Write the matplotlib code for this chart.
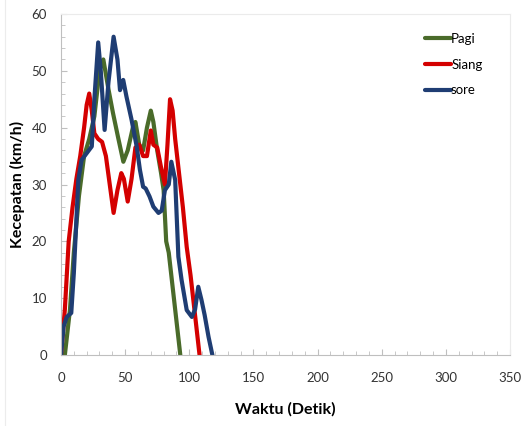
import matplotlib
matplotlib.use("Agg")
import matplotlib.pyplot as plt
from matplotlib.ticker import MultipleLocator
from matplotlib.lines import Line2D

plt.rcParams['font.family'] = ['Lato', 'DejaVu Sans']

pagi_t = [3, 7, 10, 14, 18, 22, 26, 30, 33, 36.8, 40.5, 44.4, 48.6, 52, 56, 58, 61, 64, 67, 70, 72, 75, 78, 80, 82, 84, 87, 90, 93]
pagi_v = [0, 8, 18, 28, 35, 38, 42, 50, 52, 47, 42.6, 38.4, 34, 36, 40, 41, 37, 36, 40, 43, 41, 36, 32, 29, 20, 18, 12, 6, 0]

siang_t = [0, 3, 6, 9, 12, 15, 18, 20, 22, 24, 26, 29, 32, 35, 38, 41, 44, 47, 49, 52, 55, 58, 61, 64, 67, 70, 72, 75, 78, 81, 83, 85, 87, 89, 92, 95, 98, 101, 104, 108]
siang_v = [0, 8, 20, 26, 31, 35, 40, 44, 46, 43, 39, 38, 37.5, 35, 30, 25, 29, 32, 31, 27, 31, 36.5, 37, 35, 35, 39.5, 37, 36.5, 33, 30, 37, 45, 43, 38, 32, 26, 19, 14, 8, 0]

sore_t = [0, 2, 4.5, 8, 10, 13.5, 16, 20, 24, 26, 29, 31, 34, 37, 41, 44, 46, 48.5, 51, 55, 59, 61.5, 64, 66, 69, 72, 76, 78.5, 81, 84, 86, 89, 91.5, 94, 98, 102, 104.5, 107, 109.5, 112, 115, 118]
sore_v = [0, 5, 6.7, 7.4, 14.4, 30.8, 34.3, 35.5, 36.7, 45, 55, 50, 39.6, 48, 56, 52, 46.6, 48.4, 45.5, 41.4, 36.7, 32.6, 29.6, 29.3, 27.9, 26.1, 25, 25.4, 29, 30, 34, 30.8, 17.3, 13.2, 7.9, 6.7, 8, 12, 9.7, 7, 3.2, 0]

labels = ['Pagi', 'Siang', 'sore']
colors = ['#4a6b2a', '#d40000', '#1f3d73']

fig = plt.figure(figsize=(5.23, 4.26), dpi=100)
fig.add_artist(Line2D([4.5/523, 4.5/523], [0, 1], transform=fig.transFigure,
                      color='#ececec', linewidth=0.8))
ax = fig.add_axes([61/523, 71/426, 449/523, 341/426])

for t, v, lab, c in zip([pagi_t, siang_t, sore_t], [pagi_v, siang_v, sore_v], labels, colors):
    ax.plot(t, v, color=c, lw=3, label=lab, solid_capstyle='round', solid_joinstyle='round')

ax.set_xlim(0, 350)
ax.set_ylim(0, 60)
ax.xaxis.set_major_locator(MultipleLocator(50))
ax.xaxis.set_minor_locator(MultipleLocator(10))
ax.yaxis.set_major_locator(MultipleLocator(10))
ax.yaxis.set_minor_locator(MultipleLocator(2))
ax.tick_params(which='both', direction='in', color='#bfbfbf', labelsize=9.5, labelcolor='#333333')
ax.tick_params(which='major', length=4)
ax.tick_params(which='minor', length=3)
ax.tick_params(axis='x', pad=12)
ax.tick_params(axis='y', pad=10)
for s in ['top', 'right']:
    ax.spines[s].set_color('#ebebeb')
    ax.spines[s].set_linewidth(0.8)
for s in ['left', 'bottom']:
    ax.spines[s].set_color('#bfbfbf')

ax.set_xlabel('Waktu (Detik)', fontsize=11.5, fontweight='bold', labelpad=13)
ax.set_ylabel('Kecepatan (km/h)', fontsize=11.5, fontweight='bold', labelpad=5)

ax.legend(loc='upper right', bbox_to_anchor=(0.965, 0.98), frameon=False, fontsize=9.5,
          handlelength=2.0, handletextpad=0.0, labelspacing=1.05)

fig.savefig('out.png', dpi=100)
